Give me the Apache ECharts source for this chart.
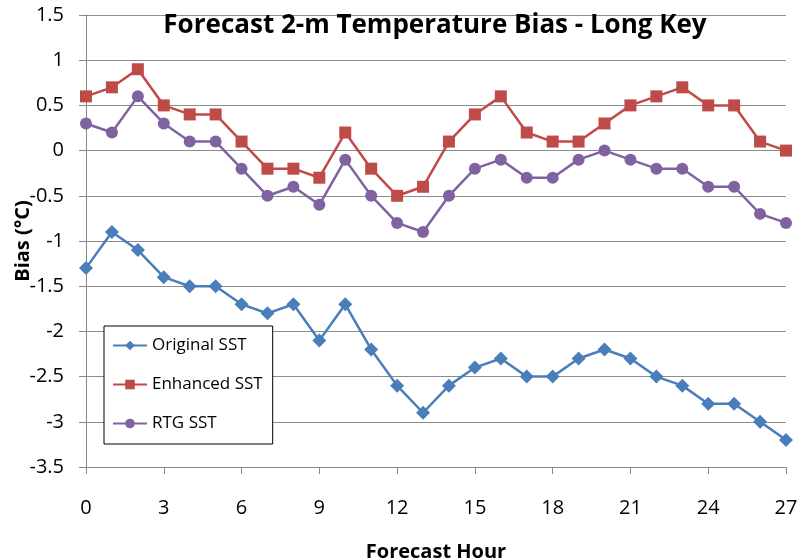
<!DOCTYPE html>
<html><head><meta charset="utf-8">
<script src="https://cdn.jsdelivr.net/npm/echarts@6/dist/echarts.min.js"></script>
<style>html,body{margin:0;padding:0;background:#fff}#c{width:800px;height:559px}</style>
</head><body><div id="c"></div>
<script>
const hours = [0,1,2,3,4,5,6,7,8,9,10,11,12,13,14,15,16,17,18,19,20,21,22,23,24,25,26,27];
const originalSST = [-1.3,-0.9,-1.1,-1.4,-1.5,-1.5,-1.7,-1.8,-1.7,-2.1,-1.7,-2.2,-2.6,-2.9,-2.6,-2.4,-2.3,-2.5,-2.5,-2.3,-2.2,-2.3,-2.5,-2.6,-2.8,-2.8,-3.0,-3.2];
const enhancedSST = [0.6,0.7,0.9,0.5,0.4,0.4,0.1,-0.2,-0.2,-0.3,0.2,-0.2,-0.5,-0.4,0.1,0.4,0.6,0.2,0.1,0.1,0.3,0.5,0.6,0.7,0.5,0.5,0.1,0.0];
const rtgSST = [0.3,0.2,0.6,0.3,0.1,0.1,-0.2,-0.5,-0.4,-0.6,-0.1,-0.5,-0.8,-0.9,-0.5,-0.2,-0.1,-0.3,-0.3,-0.1,0.0,-0.1,-0.2,-0.2,-0.4,-0.4,-0.7,-0.8];
const seriesNames = ['Original SST','Enhanced SST','RTG SST'];
const colors = ['#4A7EBB','#BE4B48','#7F63A1'];

const font = '"Open Sans", sans-serif';
const pair = arr => hours.map((h,i)=>[h,arr[i]]);
const chart = echarts.init(document.getElementById('c'));
const mk = (name, data, color, symbol, size) => ({
  name, type:'line', data: pair(data), symbol, symbolSize: size,
  lineStyle:{color, width:2.5}, itemStyle:{color}, z: 3
});
chart.setOption({
  animation:false,
  title:{text:'Forecast 2-m Temperature Bias - Long Key', left:430, top:8, textAlign:'center',
    textStyle:{fontFamily:font, fontSize:26, fontWeight:'bold', color:'#000'}},
  legend:{orient:'vertical', left:104, top:326, width:175, height:136,
    padding:[11,10,12,8], itemGap:22, itemWidth:34, itemHeight:12,
    borderColor:'#000', borderWidth:1, backgroundColor:'#fff',
    textStyle:{fontFamily:font, fontSize:17, color:'#000'},
    data:seriesNames},
  grid:{left:86, right:14, top:15, bottom:92, containLabel:false, outerBoundsMode:'none'},
  xAxis:{type:'value', min:0, max:27, interval:3,
    name:'Forecast Hour', nameLocation:'middle', nameGap:75, nameMoveOverlap:false,
    nameTextStyle:{fontFamily:font, fontSize:20, fontWeight:'bold', color:'#000'},
    axisLine:{show:true, onZero:false, lineStyle:{color:'#888', width:1}},
    axisTick:{show:true, length:7, lineStyle:{color:'#888'}},
    axisLabel:{fontFamily:font, fontSize:20, color:'#000', margin:31},
    splitLine:{show:false}},
  yAxis:{type:'value', min:-3.5, max:1.5, interval:0.5,
    name:'Bias (°C)', nameLocation:'middle', nameGap:53, nameRotate:90, nameMoveOverlap:false,
    nameTextStyle:{fontFamily:font, fontSize:20, fontWeight:'bold', color:'#000'},
    axisLine:{show:true, lineStyle:{color:'#888', width:1}},
    axisTick:{show:true, length:7, lineStyle:{color:'#888'}},
    axisLabel:{fontFamily:font, fontSize:20, color:'#000', margin:22},
    splitLine:{show:true, lineStyle:{color:'#8c8c8c', width:1}}},
  series:[
    mk(seriesNames[0], originalSST, colors[0], 'diamond', 14),
    mk(seriesNames[1], enhancedSST, colors[1], 'rect', 12),
    mk(seriesNames[2], rtgSST, colors[2], 'circle', 12)
  ]
});
</script></body></html>
